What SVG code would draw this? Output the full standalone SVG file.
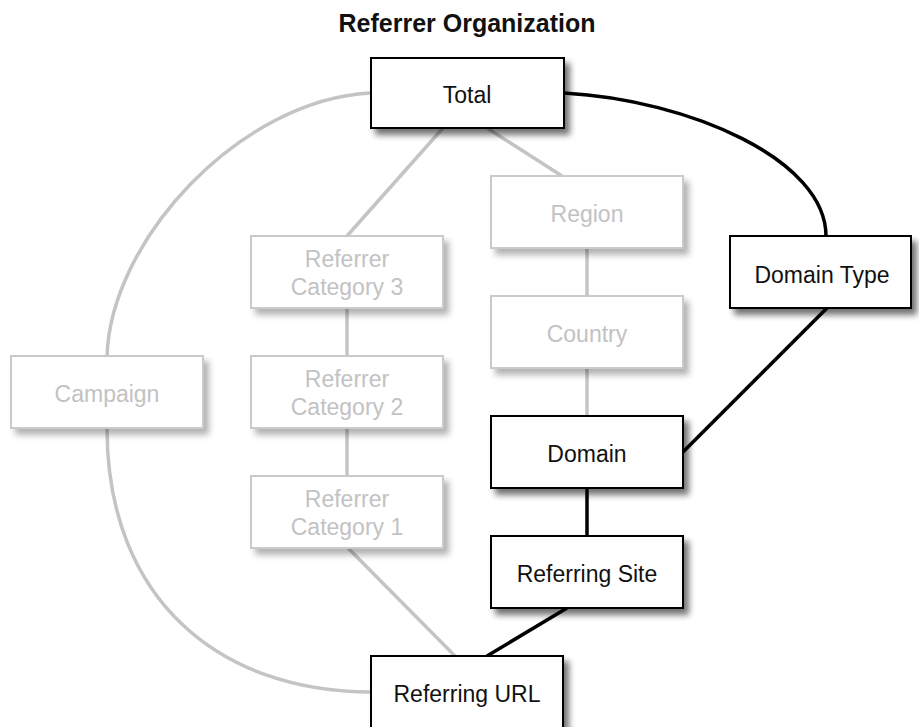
<svg xmlns="http://www.w3.org/2000/svg" width="919" height="727" viewBox="0 0 919 727">
  <defs>
    <filter id="shadow" x="-10%" y="-20%" width="130%" height="160%">
      <feGaussianBlur in="SourceAlpha" stdDeviation="3"/>
      <feOffset dx="5" dy="6" result="blur"/>
      <feComponentTransfer><feFuncA type="linear" slope="0.55"/></feComponentTransfer>
      <feMerge><feMergeNode/><feMergeNode in="SourceGraphic"/></feMerge>
    </filter>
    <filter id="shadowLight" x="-10%" y="-20%" width="130%" height="160%">
      <feGaussianBlur in="SourceAlpha" stdDeviation="3"/>
      <feOffset dx="5" dy="6" result="blur"/>
      <feComponentTransfer><feFuncA type="linear" slope="0.3"/></feComponentTransfer>
      <feMerge><feMergeNode/><feMergeNode in="SourceGraphic"/></feMerge>
    </filter>
  </defs>
  <style>
    text { font-family: "Liberation Sans", Arial, Helvetica, sans-serif; font-size: 23px; text-anchor: middle; }
    .title { font-weight: bold; font-size: 25px; fill: #111; }
    .on rect { fill: #fff; stroke: #000; stroke-width: 2; filter: url(#shadow); }
    .on text { fill: #111; }
    .off rect { fill: #fff; stroke: #cacaca; stroke-width: 2; filter: url(#shadowLight); }
    .off text { fill: #c2c2c2; }
    .edge-on { fill: none; stroke: #000; stroke-width: 3.5; }
    .edge-off { fill: none; stroke: #c4c4c4; stroke-width: 3.5; }
  </style>

  <text class="title" x="467" y="32">Referrer Organization</text>

  <g id="connectors">
    <!-- inactive hierarchy -->
    <path class="edge-off" d="M370,93 C240,100 110,240 107,357"/>
    <path class="edge-off" d="M107,428 C107,600 220,692 371,692"/>
    <line class="edge-off" x1="443" y1="128" x2="347" y2="236"/>
    <line class="edge-off" x1="487" y1="128" x2="562" y2="176"/>
    <line class="edge-off" x1="347" y1="308" x2="347" y2="356"/>
    <line class="edge-off" x1="347" y1="428" x2="347" y2="476"/>
    <line class="edge-off" x1="348" y1="548" x2="455" y2="656"/>
    <line class="edge-off" x1="587" y1="248" x2="587" y2="296"/>
    <line class="edge-off" x1="587" y1="368" x2="587" y2="416"/>
    <!-- active path -->
    <path class="edge-on" d="M564,93 C690,100 826,160 826,236"/>
    <line class="edge-on" x1="827" y1="308" x2="683" y2="452"/>
    <line class="edge-on" x1="587" y1="488" x2="587" y2="536"/>
    <line class="edge-on" x1="567" y1="608" x2="487" y2="656"/>
  </g>

  <g id="campaign" class="off">
    <rect x="11" y="356" width="192" height="72"/>
    <text x="107" y="402">Campaign</text>
  </g>
  <g id="referrer-category-3" class="off">
    <rect x="251" y="236" width="192" height="72"/>
    <text x="347" y="267">Referrer</text>
    <text x="347" y="295">Category 3</text>
  </g>
  <g id="referrer-category-2" class="off">
    <rect x="251" y="356" width="192" height="72"/>
    <text x="347" y="387">Referrer</text>
    <text x="347" y="415">Category 2</text>
  </g>
  <g id="referrer-category-1" class="off">
    <rect x="251" y="476" width="192" height="72"/>
    <text x="347" y="507">Referrer</text>
    <text x="347" y="535">Category 1</text>
  </g>
  <g id="region" class="off">
    <rect x="491" y="176" width="192" height="72"/>
    <text x="587" y="222">Region</text>
  </g>
  <g id="country" class="off">
    <rect x="491" y="296" width="192" height="72"/>
    <text x="587" y="342">Country</text>
  </g>

  <g id="total" class="on">
    <rect x="371" y="58" width="193" height="70"/>
    <text x="467" y="103">Total</text>
  </g>
  <g id="domain-type" class="on">
    <rect x="730" y="236" width="181" height="72"/>
    <text x="822" y="283">Domain Type</text>
  </g>
  <g id="domain" class="on">
    <rect x="491" y="416" width="192" height="72"/>
    <text x="587" y="462">Domain</text>
  </g>
  <g id="referring-site" class="on">
    <rect x="491" y="536" width="192" height="72"/>
    <text x="587" y="582">Referring Site</text>
  </g>
  <g id="referring-url" class="on">
    <rect x="371" y="656" width="192" height="72"/>
    <text x="467" y="702">Referring URL</text>
  </g>
</svg>
